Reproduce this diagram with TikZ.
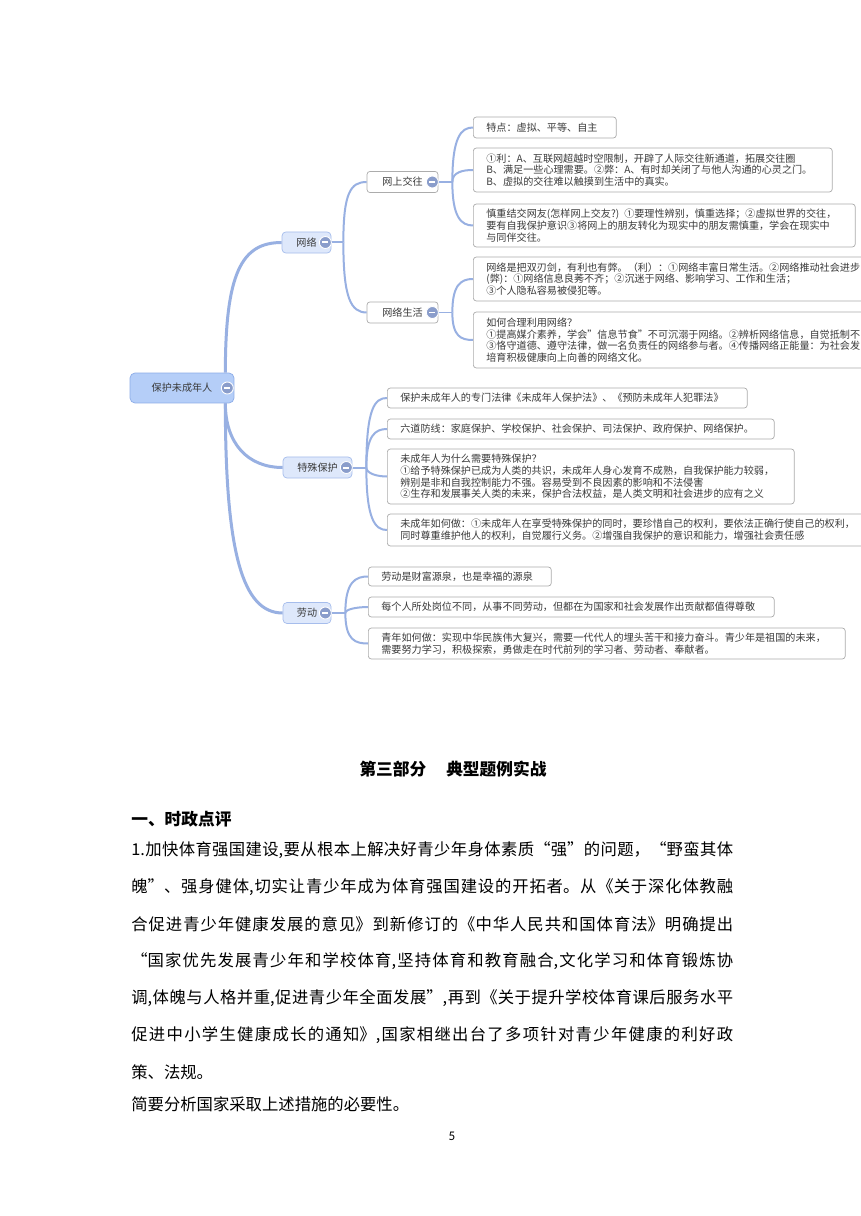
\documentclass[tikz,border=0pt]{standalone}
\usepackage{fontspec}
\setmainfont{Noto Sans CJK SC}
\newfontfamily\pagefont{Carlito}
\XeTeXlinebreaklocale "zh"
\XeTeXlinebreakskip=0pt plus 3pt
\definecolor{branch}{RGB}{152,176,226}
\definecolor{rootfill}{RGB}{181,206,248}
\definecolor{rootline}{RGB}{140,172,232}
\definecolor{topicfill}{RGB}{222,232,251}
\definecolor{topicline}{RGB}{166,189,236}
\definecolor{leafline}{RGB}{172,172,172}
\definecolor{maptext}{RGB}{58,58,58}
\definecolor{btnfill}{RGB}{138,157,203}

\begin{document}
\begin{tikzpicture}[
  x=0.02cm,y=-0.02cm,
  font=\fontsize{5.75}{6.7}\selectfont,
  root/.style={draw=rootline,fill=rootfill,rounded corners=0.1cm,minimum width=2.08cm,minimum height=0.6cm,text=maptext},
  topic/.style={draw=topicline,fill=topicfill,rounded corners=0.08cm,minimum height=0.42cm,text=maptext},
  sub/.style={draw=leafline,fill=white,rounded corners=0.06cm,minimum width=1.42cm,minimum height=0.4cm,text=maptext},
  leaf/.style={draw=leafline,fill=white,rounded corners=0.06cm,anchor=west,align=left,inner xsep=0.26cm,inner ysep=0.06cm,text=maptext},
  btn/.style={circle,fill=btnfill,draw=white,line width=0.5pt,minimum size=0.24cm,inner sep=0pt,
    path picture={\draw[white,line width=0.04cm] (path picture bounding box.center) ++(-3,0) -- ++(6,0);}},
  link/.style={draw=branch,line width=0.06cm},
  twig/.style={draw=branch,line width=0.04cm},
  body/.style={anchor=west,inner sep=0pt,font=\fontsize{9.3}{11}\selectfont},
  fullline/.style={body,text width=12.04cm,align=justify},
  head/.style={inner sep=0pt,font=\fontsize{9.5}{11}\selectfont\bfseries}]
\useasboundingbox[fill=white] (0,0) rectangle (860,1216);

\node[root] (root) at (182,388) {保护未成年人};
\node[topic,minimum width=0.98cm] (net) at (306.5,242.5) {网络};
\node[topic,minimum width=1.38cm] (guard) at (317.5,467.5) {特殊保护};
\node[topic,minimum width=0.96cm] (labour) at (307,613) {劳动};
\node[sub] (chat) at (402.5,182) {网上交往};
\node[sub] (life) at (402.5,312.5) {网络生活};

\node[leaf,minimum width=2.86cm,minimum height=0.42cm,text width=2.34cm] (chat1) at (473,127.5)
  {特点：虚拟、平等、自主};
\node[leaf,minimum width=7.18cm,minimum height=0.88cm,text width=6.66cm] (chat2) at (473,170)
  {①利：A、互联网超越时空限制，开辟了人际交往新通道，拓展交往圈\\
   B、满足一些心理需要。②弊：A、有时却关闭了与他人沟通的心灵之门。\\
   B、虚拟的交往难以触摸到生活中的真实。};
\node[leaf,minimum width=7.64cm,minimum height=0.86cm,text width=7.12cm] (chat3) at (473,225.5)
  {慎重结交网友(怎样网上交友?) ①要理性辨别，慎重选择；②虚拟世界的交往，\\
   要有自我保护意识③将网上的朋友转化为现实中的朋友需慎重，学会在现实中\\
   与同伴交往。};
\node[leaf,minimum width=8.6cm,minimum height=0.88cm,text width=8.08cm] (life1) at (473,279)
  {网络是把双刃剑，有利也有弊。（利）：①网络丰富日常生活。②网络推动社会进步\\
   (弊)：①网络信息良莠不齐；②沉迷于网络、影响学习、工作和生活；\\
   ③个人隐私容易被侵犯等。};
\node[leaf,minimum width=8.6cm,minimum height=1.12cm,text width=8.08cm] (life2) at (473,340)
  {如何合理利用网络？\\
   ①提高媒介素养，学会"信息节食"不可沉溺于网络。②辨析网络信息，自觉抵制不良\\
   ③恪守道德、遵守法律，做一名负责任的网络参与者。④传播网络正能量：为社会发\\
   培育积极健康向上向善的网络文化。};
\node[leaf,minimum width=7.2cm,minimum height=0.4cm,text width=6.68cm] (guard1) at (387,398)
  {保护未成年人的专门法律《未成年人保护法》、《预防未成年人犯罪法》};
\node[leaf,minimum width=7.74cm,minimum height=0.4cm,text width=7.22cm] (guard2) at (387,429)
  {六道防线：家庭保护、学校保护、社会保护、司法保护、政府保护、网络保护。};
\node[leaf,minimum width=8.14cm,minimum height=1.1cm,text width=7.62cm] (guard3) at (387,476.5)
  {未成年人为什么需要特殊保护？\\
   ①给予特殊保护已成为人类的共识，未成年人身心发育不成熟，自我保护能力较弱，\\
   辨别是非和自我控制能力不强。容易受到不良因素的影响和不法侵害\\
   ②生存和发展事关人类的未来，保护合法权益，是人类文明和社会进步的应有之义};
\node[leaf,minimum width=10.4cm,minimum height=0.64cm,text width=9.88cm] (guard4) at (387,530)
  {未成年如何做：①未成年人在享受特殊保护的同时，要珍惜自己的权利，要依法正确行使自己的权利，\\
   同时尊重维护他人的权利，自觉履行义务。②增强自我保护的意识和能力，增强社会责任感};
\node[leaf,minimum width=3.66cm,minimum height=0.38cm,text width=3.14cm] (labour1) at (368,576.5)
  {劳动是财富源泉，也是幸福的源泉};
\node[leaf,minimum width=8.12cm,minimum height=0.4cm,text width=7.6cm] (labour2) at (368,607)
  {每个人所处岗位不同，从事不同劳动，但都在为国家和社会发展作出贡献都值得尊敬};
\node[leaf,minimum width=9.54cm,minimum height=0.62cm,text width=9.02cm] (labour3) at (368,643.5)
  {青年如何做：实现中华民族伟大复兴，需要一代代人的埋头苦干和接力奋斗。青少年是祖国的未来，\\
   需要努力学习，积极探索，勇做走在时代前列的学习者、劳动者、奉献者。};

\coordinate (rt) at ([xshift=-0.18cm]root.north east);
\coordinate (rb) at ([xshift=-0.18cm]root.south east);
\draw[link] (rt) .. controls +(0,-100) and +(-40,0) .. (net.west);
\draw[link] (rb) .. controls +(0,40) and +(-35,0) .. (guard.west);
\draw[link] (rb) .. controls +(0,150) and +(-40,0) .. (labour.west);

\draw[twig] (net.east) -- ++(12,0) coordinate (netj);
\draw[twig] (netj) .. controls +(0,-50) and +(-16,0) .. (chat.west);
\draw[twig] (netj) .. controls +(0,55) and +(-16,0) .. (life.west);

\draw[twig] (chat.east) -- ++(14,0) coordinate (chatj);
\draw[twig] (chatj) .. controls +(0,-45) and +(-12,0) .. (chat1.west);
\draw[twig] (chatj) .. controls +(0,-10) and +(-10,0) .. (chat2.west);
\draw[twig] (chatj) .. controls +(0,35) and +(-12,0) .. (chat3.west);

\draw[twig] (life.east) -- ++(14,0) coordinate (lifej);
\draw[twig] (lifej) .. controls +(0,-28) and +(-12,0) .. (life1.west);
\draw[twig] (lifej) .. controls +(0,24) and +(-12,0) .. (life2.west);

\draw[twig] (guard.east) -- ++(14,0) coordinate (guardj);
\draw[twig] (guardj) .. controls +(0,-60) and +(-12,0) .. (guard1.west);
\draw[twig] (guardj) .. controls +(0,-32) and +(-12,0) .. (guard2.west);
\draw[twig] (guardj) .. controls +(0,6) and +(-10,0) .. (guard3.west);
\draw[twig] (guardj) .. controls +(0,52) and +(-12,0) .. (guard4.west);

\draw[twig] (labour.east) -- ++(14,0) coordinate (labourj);
\draw[twig] (labourj) .. controls +(0,-32) and +(-12,0) .. (labour1.west);
\draw[twig] (labourj) .. controls +(0,-4) and +(-10,0) .. (labour2.west);
\draw[twig] (labourj) .. controls +(0,28) and +(-12,0) .. (labour3.west);

\node[btn] (rootbtn) at ([xshift=-0.14cm]root.east) {};
\node[btn] (netbtn) at ([xshift=-0.12cm]net.east) {};
\node[btn] (guardbtn) at ([xshift=-0.12cm]guard.east) {};
\node[btn] (labourbtn) at ([xshift=-0.12cm]labour.east) {};
\node[btn] (chatbtn) at ([xshift=-0.12cm]chat.east) {};
\node[btn] (lifebtn) at ([xshift=-0.12cm]life.east) {};

\node[head] (part) at (453,769) {第三部分\hspace{0.4cm}典型题例实战};
\node[head,anchor=west] (sect) at (131,819) {一、时政点评};
\node[fullline] (line1) at (131,850)
  {\parfillskip=0pt 1.加快体育强国建设,要从根本上解决好青少年身体素质“强”的问题，“野蛮其体\par};
\node[fullline] (line2) at (131,887)
  {\parfillskip=0pt 魄”、强身健体,切实让青少年成为体育强国建设的开拓者。从《关于深化体教融\par};
\node[fullline] (line3) at (131,924)
  {\parfillskip=0pt 合促进青少年健康发展的意见》到新修订的《中华人民共和国体育法》明确提出\par};
\node[fullline] (line4) at (131,961)
  {\parfillskip=0pt “国家优先发展青少年和学校体育,坚持体育和教育融合,文化学习和体育锻炼协\par};
\node[fullline] (line5) at (131,998)
  {\parfillskip=0pt 调,体魄与人格并重,促进青少年全面发展”,再到《关于提升学校体育课后服务水平\par};
\node[fullline] (line6) at (131,1035)
  {\parfillskip=0pt 促进中小学生健康成长的通知》,国家相继出台了多项针对青少年健康的利好政\par};
\node[body] (line7) at (131,1072) {策、法规。};
\node[body] (line8) at (131,1104) {简要分析国家采取上述措施的必要性。};
\node[inner sep=0pt,font=\pagefont\fontsize{7.5}{9}\selectfont] (pageno) at (452,1136) {5};
\end{tikzpicture}
\end{document}
